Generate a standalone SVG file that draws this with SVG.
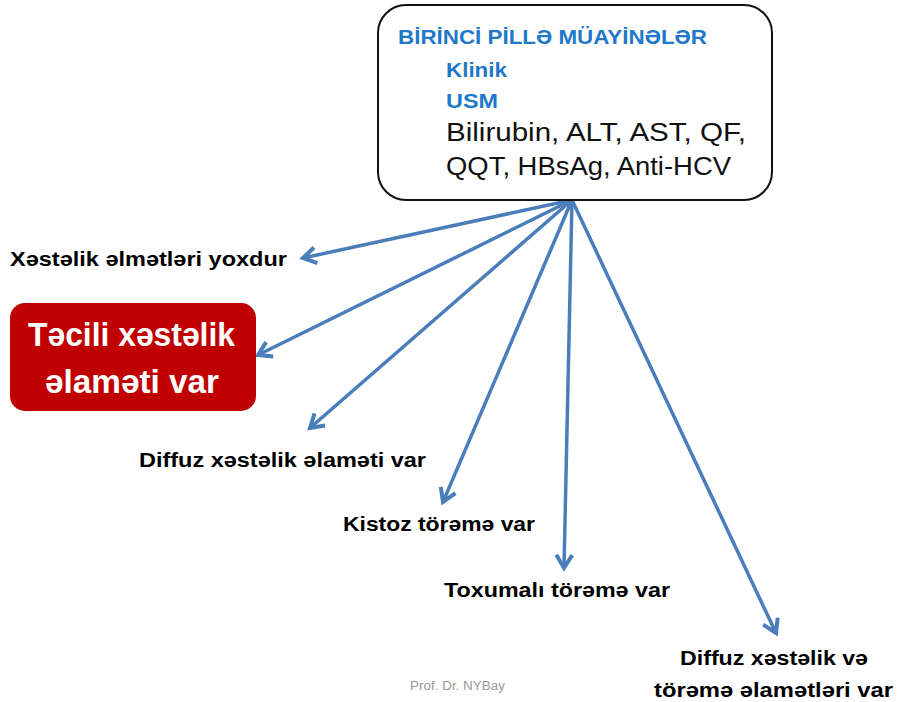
<svg xmlns="http://www.w3.org/2000/svg" width="898" height="702" viewBox="0 0 898 702">
<style>
.t{font-family:"Liberation Sans",Arial,sans-serif;font-weight:bold;fill:#000}
.lbl{font-size:19.5px}
.blue{fill:#1f78c8;font-size:21px}
.blk{font-family:"Liberation Sans",Arial,sans-serif;font-size:26px;fill:#111}
.wh{font-family:"Liberation Sans",Arial,sans-serif;font-weight:bold;font-size:33px;fill:#fff}
.conn line{stroke:#4a7ebb;stroke-width:3.5;fill:none;marker-end:url(#ah)}
</style>
<defs>
<marker id="ah" markerUnits="userSpaceOnUse" markerWidth="30" markerHeight="30" refX="0" refY="0" viewBox="-15 -15 30 30" orient="auto" overflow="visible">
<path d="M-13,-8 L0,0 L-13,8" fill="none" stroke="#4a7ebb" stroke-width="4" stroke-linejoin="miter"/>
</marker>
</defs>
<rect width="898" height="702" fill="#fff"/>
<g class="conn">
<line x1="572" y1="200" x2="303" y2="258"/>
<line x1="572" y1="200" x2="258" y2="355"/>
<line x1="572" y1="200" x2="310" y2="428"/>
<line x1="572" y1="200" x2="443" y2="502"/>
<line x1="572" y1="200" x2="564" y2="568"/>
<line x1="572" y1="200" x2="776" y2="633"/>
</g>
<g id="top">
<rect x="378" y="5" width="394" height="195" rx="28" fill="#fff" stroke="#111" stroke-width="2"/>
<text class="t blue" x="398" y="44" textLength="309" lengthAdjust="spacingAndGlyphs">BİRİNCİ PİLLƏ MÜAYİNƏLƏR</text>
<text class="t blue" x="446" y="77" textLength="61" lengthAdjust="spacingAndGlyphs">Klinik</text>
<text class="t blue" x="446" y="108" textLength="52" lengthAdjust="spacingAndGlyphs">USM</text>
<text class="blk" x="446" y="141" textLength="300" lengthAdjust="spacingAndGlyphs">Bilirubin, ALT, AST, QF,</text>
<text class="blk" x="446" y="175" textLength="285" lengthAdjust="spacingAndGlyphs">QQT, HBsAg, Anti-HCV</text>
</g>
<g id="n1"><text class="t lbl" x="10" y="266" textLength="277" lengthAdjust="spacingAndGlyphs">Xəstəlik əlmətləri yoxdur</text></g>
<g id="n2">
<rect x="10" y="303" width="246" height="108" rx="15" fill="#c00000"/>
<text class="wh" x="28" y="346" textLength="207" lengthAdjust="spacingAndGlyphs">Təcili xəstəlik</text>
<text class="wh" x="45" y="393" textLength="174" lengthAdjust="spacingAndGlyphs">əlaməti var</text>
</g>
<g id="n3"><text class="t lbl" x="139" y="467" textLength="287" lengthAdjust="spacingAndGlyphs">Diffuz xəstəlik əlaməti var</text></g>
<g id="n4"><text class="t lbl" x="343" y="531" textLength="192" lengthAdjust="spacingAndGlyphs">Kistoz törəmə var</text></g>
<g id="n5"><text class="t lbl" x="444" y="597" textLength="226" lengthAdjust="spacingAndGlyphs">Toxumalı törəmə var</text></g>
<g id="n6">
<text class="t lbl" x="680" y="665" textLength="188" lengthAdjust="spacingAndGlyphs">Diffuz xəstəlik və</text>
<text class="t lbl" x="654" y="697" textLength="239" lengthAdjust="spacingAndGlyphs">törəmə əlamətləri var</text>
</g>
<text x="410" y="690" font-family="Liberation Sans,Arial,sans-serif" font-size="12" fill="#999" textLength="95" lengthAdjust="spacingAndGlyphs">Prof. Dr. NYBay</text>
</svg>
